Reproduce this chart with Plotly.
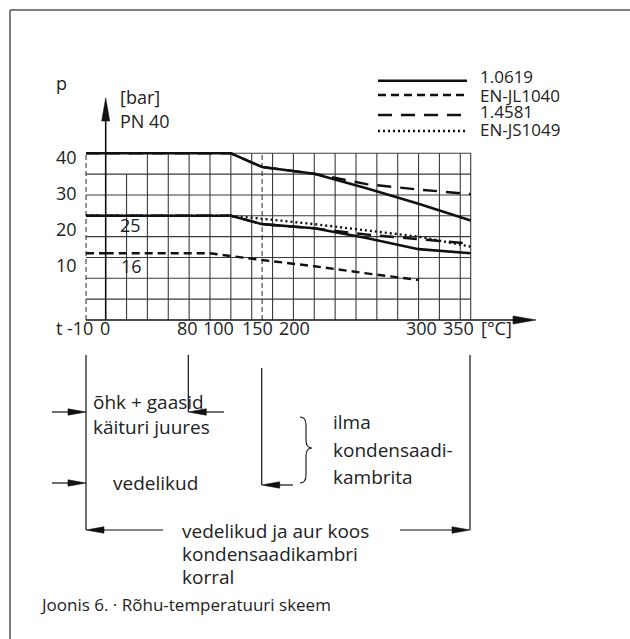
import numpy as np
import plotly.graph_objects as go

W, H = 630, 639
INK = "#111111"
TEXT = "#222222"
GRID = "#3a3a3a"
FONT = "Open Sans"

# ---------------- data ----------------
temps = [-10, 120, 150, 200, 250, 300, 350]          # °C
p_10619_pn40 = [40, 40, 36.7, 35.1, 31.6, 27.9, 23.9]  # bar
p_14581_pn40 = [40, 40, 36.7, 35.1, 32.6, 31.3, 30.2]
p_10619_pn25 = [25, 25, 23.0, 22.0, 19.7, 17.0, 16.0]
p_14581_pn25 = [25, 25, 23.0, 22.0, 20.5, 19.4, 18.3]
p_js1049_pn25 = [25, 25, 24.3, 23.0, 21.5, 20.0, 17.6]
temps_jl1040 = [-10, 100, 150, 200, 250, 300]
p_jl1040_pn16 = [16, 16, 14.4, 12.9, 11.2, 9.6]

legend_names = ["1.0619", "EN-JL1040", "1.4581", "EN-JS1049"]
y_tick_labels = ["40", "30", "20", "10"]
x_tick_labels = ["-10", "0", "80", "100", "150", "200", "300", "350"]
grid_pressures = [5, 10, 15, 20, 25, 30, 35, 40]
grid_temps = [20, 40, 60, 80, 100, 120, 140, 160, 180, 200, 220, 240,
              260, 280, 300, 320, 340, 350]
dashed_temps = [-10, 150]
t_min, t_max, p_top = -10, 350, 40

# ---------------- styles / layout positions ----------------
STYLE = {
    "1.0619": dict(color=INK, width=2.6, dash="solid"),
    "EN-JL1040": dict(color=INK, width=2.4, dash="8px,5px"),
    "1.4581": dict(color=INK, width=2.4, dash="14px,9px"),
    "EN-JS1049": dict(color=INK, width=2.4, dash="2px,3px"),
}

# axis geometry in pixels
X0_PX = 105.7            # 0 °C
C_PX = 365.0 / 350.0     # px per °C right of 0
CL_PX = 1.97             # px per °C for the -10..0 segment
Y0_PX = 320.0            # 0 bar
B_PX = 4.1675            # px per bar

x1_range = [-12, 2]
x2_range = [0, 414]
y_range = [-1, 41]
x1_dom = [(X0_PX + x1_range[0] * CL_PX) / W, (X0_PX + x1_range[1] * CL_PX) / W]
x2_dom = [X0_PX / W, (X0_PX + x2_range[1] * C_PX) / W]
y_dom = [(H - (Y0_PX - y_range[0] * B_PX)) / H, (H - (Y0_PX - y_range[1] * B_PX)) / H]


def P(x, y):
    return x / W, 1 - y / H


def line_px(x0, y0, x1, y1, width=1.2, color=INK, dash=None):
    a, b = P(x0, y0)
    c, d = P(x1, y1)
    ln = dict(color=color, width=width)
    if dash:
        ln["dash"] = dash
    return dict(type="line", xref="paper", yref="paper", x0=a, y0=b, x1=c, y1=d, line=ln)


def head_px(x0, y0, x1, y1, L=18, hw=3.2, color=INK):
    dx, dy = x1 - x0, y1 - y0
    n = np.hypot(dx, dy)
    ux, uy = dx / n, dy / n
    bx, by = x1 - ux * L, y1 - uy * L
    nx, ny = -uy, ux
    pts = [(x1, y1), (bx + nx * hw, by + ny * hw), (bx - nx * hw, by - ny * hw)]
    s = "M" + " L".join("%.5f,%.5f" % P(*p) for p in pts) + " Z"
    return dict(type="path", xref="paper", yref="paper", path=s,
                fillcolor=color, line=dict(color=color, width=0.6))


def arrow_px(x0, y0, x1, y1, L=18, hw=3.2, width=1.2):
    dx, dy = x1 - x0, y1 - y0
    n = np.hypot(dx, dy)
    ex, ey = x1 - dx / n * (L * 0.6), y1 - dy / n * (L * 0.6)
    return [line_px(x0, y0, ex, ey, width=width), head_px(x0, y0, x1, y1, L, hw)]


def text_px(x, y, s, size=19, anchor="left", color=TEXT):
    a, b = P(x, y)
    return dict(xref="paper", yref="paper", x=a, y=b, text=s, showarrow=False,
                xanchor=anchor, yanchor="middle", borderpad=0,
                font=dict(family=FONT, size=size, color=color))


fig = go.Figure()


def add_series(ts, ps, name):
    ts = np.asarray(ts, float)
    ps = np.asarray(ps, float)
    p0 = float(np.interp(0, ts, ps))
    left_t = list(ts[ts < 0]) + [0.0]
    left_p = list(ps[ts < 0]) + [p0]
    right_t = [0.0] + list(ts[ts > 0])
    right_p = [p0] + list(ps[ts > 0])
    st = STYLE[name]
    for xs, ys, xa in ((left_t, left_p, "x"), (right_t, right_p, "x2")):
        fig.add_trace(go.Scatter(x=xs, y=ys, mode="lines", xaxis=xa, yaxis="y",
                                 name=name, showlegend=False, hoverinfo="skip",
                                 line=dict(color=st["color"], width=st["width"],
                                           dash=st["dash"])))


add_series(temps_jl1040, p_jl1040_pn16, "EN-JL1040")
add_series(temps, p_14581_pn40, "1.4581")
add_series(temps, p_14581_pn25, "1.4581")
add_series(temps, p_js1049_pn25, "EN-JS1049")
add_series(temps, p_10619_pn25, "1.0619")
add_series(temps, p_10619_pn40, "1.0619")

shapes = []
# grid (data coordinates)
for p in grid_pressures:
    shapes.append(dict(type="line", xref="x", yref="y", x0=t_min, x1=0, y0=p, y1=p,
                       layer="below", line=dict(color=GRID, width=1.1)))
    shapes.append(dict(type="line", xref="x2", yref="y", x0=0, x1=t_max, y0=p, y1=p,
                       layer="below", line=dict(color=GRID, width=1.1)))
for t in grid_temps:
    top = 35 if t == 20 else p_top
    shapes.append(dict(type="line", xref="x2", yref="y", x0=t, x1=t, y0=0, y1=top,
                       layer="below", line=dict(color=GRID, width=1.1)))
for t in dashed_temps:
    shapes.append(dict(type="line", xref="x" if t < 0 else "x2", yref="y", x0=t, x1=t,
                       y0=0, y1=p_top, layer="below",
                       line=dict(color=GRID, width=1.1, dash="5px,3px")))

# axes with arrows
shapes.append(line_px(86, Y0_PX, 520, Y0_PX, width=1.5))
shapes.append(head_px(86, Y0_PX, 536, Y0_PX, L=23, hw=4))
shapes.append(line_px(X0_PX, Y0_PX, X0_PX, 115, width=1.6))
shapes.append(head_px(X0_PX, Y0_PX, X0_PX, 98, L=23, hw=4))

# frame
shapes.append(line_px(10, 10, 10, 639, width=1.5, color="#555555"))
shapes.append(line_px(10, 10, 630, 10, width=1.5, color="#555555"))

# legend samples
leg_y = [80.7, 95, 115, 131]
for name, yy in zip(legend_names, leg_y):
    st = STYLE[name]
    shapes.append(line_px(378, yy, 467, yy, width=st["width"], color=st["color"],
                          dash=None if st["dash"] == "solid" else st["dash"]))

# lower application brackets
shapes.append(line_px(86, 355, 86, 530))
shapes.append(line_px(188.3, 355, 188.3, 412))
shapes.append(line_px(261.7, 368, 261.7, 485))
shapes.append(line_px(470, 355, 470, 530))
shapes += arrow_px(52, 412, 86, 412)
shapes += arrow_px(52, 483, 86, 483)
shapes += arrow_px(224, 412, 188.3, 412)
shapes += arrow_px(293, 485, 261.7, 485)
shapes += arrow_px(163, 530, 86, 530)
shapes += arrow_px(400, 530, 470, 530)

# brace
bp = [(300, 417), (306, 417), (306, 425), (306, 440), (306, 448), (312, 448),
      (306, 448), (306, 456), (306, 475), (306, 483), (300, 483)]
q = [P(*p) for p in bp]
brace = ("M%.5f,%.5f Q%.5f,%.5f %.5f,%.5f L%.5f,%.5f Q%.5f,%.5f %.5f,%.5f "
         "Q%.5f,%.5f %.5f,%.5f L%.5f,%.5f Q%.5f,%.5f %.5f,%.5f") % tuple(
    v for pt in q for v in pt)
shapes.append(dict(type="path", xref="paper", yref="paper", path=brace,
                   line=dict(color=INK, width=1.1)))

ann = []
# y tick labels
for lab, yy in zip(y_tick_labels, [156.7, 193, 229, 265]):
    ann.append(text_px(78, yy, lab, size=18, anchor="right"))
# x tick labels
for lab, xx in zip(x_tick_labels, [80, 105, 187, 218, 257, 294, 421, 458]):
    ann.append(text_px(xx, 328, lab, size=18, anchor="center"))
ann.append(text_px(59, 328, "t", size=18, anchor="center"))
ann.append(text_px(496, 328, "[°C]", size=18, anchor="center"))
ann.append(text_px(61, 83, "p", size=18, anchor="center"))
ann.append(text_px(119, 97, "[bar]", size=18))
ann.append(text_px(119, 121, "PN 40", size=18))
ann.append(text_px(130, 225, "25", size=18, anchor="center"))
ann.append(text_px(131, 266, "16", size=18, anchor="center"))
# legend texts
for name, yy in zip(legend_names, [76.7, 95, 111.7, 129]):
    ann.append(text_px(479, yy, name, size=17))
# application texts
ann.append(text_px(92, 402, "õhk + gaasid"))
ann.append(text_px(92, 427, "käituri juures"))
ann.append(text_px(112, 483, "vedelikud"))
ann.append(text_px(332, 422, "ilma"))
ann.append(text_px(332, 450, "kondensaadi-"))
ann.append(text_px(332, 477, "kambrita"))
ann.append(text_px(181, 531, "vedelikud ja aur koos"))
ann.append(text_px(181, 554, "kondensaadikambri"))
ann.append(text_px(181, 577, "korral"))
ann.append(text_px(39, 604, "Joonis 6. · Rõhu-temperatuuri skeem", size=17))

fig.update_layout(
    width=W, height=H, autosize=False,
    margin=dict(l=0, r=0, t=0, b=0),
    paper_bgcolor="white", plot_bgcolor="rgba(0,0,0,0)",
    showlegend=False,
    font=dict(family=FONT, color=TEXT),
    xaxis=dict(domain=x1_dom, range=x1_range, visible=False, anchor="y", fixedrange=True),
    xaxis2=dict(domain=x2_dom, range=x2_range, visible=False, anchor="y", fixedrange=True),
    yaxis=dict(domain=y_dom, range=y_range, visible=False, anchor="x", fixedrange=True),
    shapes=shapes,
    annotations=ann,
)

fig.write_html("out.html", config={"displayModeBar": False},
               post_script="document.body.style.margin='0';document.body.style.overflow='hidden';")
